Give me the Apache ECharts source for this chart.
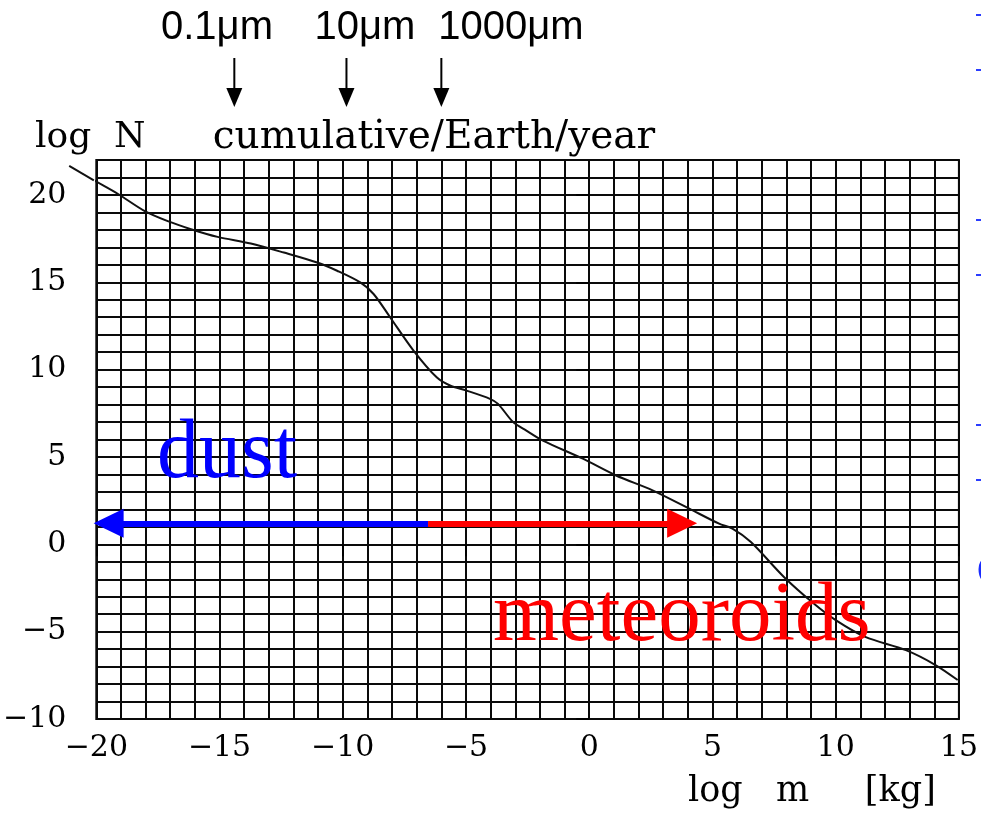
<!DOCTYPE html>
<html>
<head>
<meta charset="utf-8">
<script src="https://cdn.jsdelivr.net/npm/echarts@6/dist/echarts.min.js"></script>
<style>
  html, body { margin: 0; padding: 0; background: #ffffff; }
  #chart { width: 981px; height: 815px; }
</style>
</head>
<body>
<div id="chart"></div>
<script>
// Cumulative flux of interplanetary particles onto the Earth per year
const logMass = [-21.1, -20.1, -19.1, -18.05, -17.1, -16.16, -15.08, -13.73, -12.39, -11.04,
                 -10.23, -9.29, -8.75, -8.08, -7.13, -6.19, -5.65, -4.98, -4.03, -3.7,
                 -3.09, -2.55, -1.88, -0.26, 1.09, 2.57, 4.06, 5.27, 5.81, 6.56,
                 7.9, 9.11, 10.0, 11.2, 12.85, 14.05, 14.95];
const logN = [21.66, 20.84, 20.04, 19.09, 18.5, 18.04, 17.6, 17.22, 16.7, 16.13,
              15.66, 14.99, 14.33, 13.0, 11.09, 9.56, 9.09, 8.8, 8.33, 8.04,
              7.0, 6.51, 5.94, 4.9, 3.94, 3.09, 2.04, 1.18, 0.9, 0.13,
              -1.87, -3.39, -4.34, -5.3, -6.06, -6.91, -7.77];

const xTicks = [-20, -15, -10, -5, 0, 5, 10, 15];
const yTicks = [-10, -5, 0, 5, 10, 15, 20];

// particle sizes marked above the mass scale
const sizeLabels = ['0.1μm', '10μm', '1000μm'];
const sizeMarks = [-14.4, -9.85, -6.0];

// dust / meteoroid ranges (arrow ends on the mass axis, arrow level in log N)
const rangeSplit = -6.54;
const dustEnd = -19.5;
const meteoroidEnd = 3.77;
const rangeLevel = 1.2;

const X_MIN = -20, X_MAX = 15, Y_MIN = -10, Y_MAX = 22;

const seriesData = logMass.map((m, i) => [m, logN[i]]);
const minus = v => String(v).replace('-', '\u2212');
const serif = '"DejaVu Serif", serif';

const chart = echarts.init(document.getElementById('chart'), null, { renderer: 'canvas' });

const gridLine = { color: '#0a0a0a', width: 2 };
const tickStyle = { color: '#000', width: 2 };
const tickFont = { color: '#000', fontFamily: serif, fontSize: 30 };

chart.setOption({
  animation: false,
  backgroundColor: '#ffffff',
  grid: {
    left: 95, right: 20, top: 160, bottom: 96,
    show: true, borderColor: '#0a0a0a', borderWidth: 2, backgroundColor: 'transparent'
  },
  xAxis: [
    {
      // unit grid
      type: 'value', min: X_MIN, max: X_MAX, interval: 1, position: 'bottom',
      axisLine: { show: false }, axisTick: { show: false }, axisLabel: { show: false },
      splitLine: { show: true, lineStyle: gridLine }
    },
    {
      // labelled scale
      type: 'value', min: X_MIN, max: X_MAX, interval: 5, position: 'bottom',
      axisLine: { show: false },
      axisTick: { show: true, customValues: xTicks, length: 12, lineStyle: tickStyle },
      axisLabel: Object.assign({ customValues: xTicks, formatter: minus, margin: 14 }, tickFont),
      splitLine: { show: false }
    }
  ],
  yAxis: [
    {
      type: 'value', min: Y_MIN, max: Y_MAX, interval: 1, position: 'left',
      axisLine: { show: false }, axisTick: { show: false }, axisLabel: { show: false },
      splitLine: { show: true, lineStyle: gridLine }
    },
    {
      type: 'value', min: Y_MIN, max: Y_MAX, interval: 5, position: 'left',
      axisLine: { show: false },
      axisTick: { show: true, customValues: yTicks, length: 13, lineStyle: tickStyle },
      axisLabel: Object.assign({ customValues: yTicks, formatter: minus, margin: 30 }, tickFont),
      splitLine: { show: false }
    }
  ],
  series: [
    {
      type: 'line',
      xAxisIndex: 0, yAxisIndex: 0,
      data: seriesData,
      smooth: 0.3,
      showSymbol: false,
      clip: false,
      silent: true,
      lineStyle: { color: '#111', width: 2 },
      z: 3
    },
    {
      // dust range arrow
      type: 'line', data: [], silent: true, xAxisIndex: 0, yAxisIndex: 0,
      markLine: {
        silent: true, animation: false,
        symbol: ['none', 'triangle'], symbolSize: [29, 30],
        label: { show: false },
        lineStyle: { color: '#0000ff', width: 6, type: 'solid' },
        data: [[{ coord: [rangeSplit, rangeLevel] }, { coord: [dustEnd, rangeLevel] }]]
      },
      z: 4
    },
    {
      // meteoroid range arrow
      type: 'line', data: [], silent: true, xAxisIndex: 0, yAxisIndex: 0,
      markLine: {
        silent: true, animation: false,
        symbol: ['none', 'triangle'], symbolSize: [29, 30],
        label: { show: false },
        lineStyle: { color: '#ff0000', width: 6, type: 'solid' },
        data: [[{ coord: [rangeSplit, rangeLevel] }, { coord: [meteoroidEnd, rangeLevel] }]]
      },
      z: 4
    }
  ]
});

const toPx = (x, y) => chart.convertToPixel({ xAxisIndex: 0, yAxisIndex: 0 }, [x, y]);

const graphics = [];

// part of the curve that runs past the left edge of the frame
const tail = [];
for (let i = 0; i < logMass.length && logMass[i] <= X_MIN + 0.2; i++) {
  tail.push(toPx(logMass[i], logN[i]));
}
if (tail.length > 1) {
  graphics.push({
    type: 'polyline', shape: { points: tail },
    style: { stroke: '#111', lineWidth: 2, fill: null }, z: 5
  });
}

// particle-size labels with arrows pointing at their masses
const labelCenters = [217, 365, 511];
sizeLabels.forEach((txt, i) => {
  graphics.push({
    type: 'text', x: labelCenters[i], y: 28,
    style: { text: txt, fill: '#000', font: '40px "Liberation Sans", Arial, sans-serif',
             align: 'center', verticalAlign: 'middle' }
  });
});
sizeMarks.forEach(m => {
  const px = chart.convertToPixel({ xAxisIndex: 0 }, m);
  graphics.push({
    type: 'line',
    shape: { x1: px, y1: 58, x2: px, y2: 92 },
    style: { stroke: '#000', lineWidth: 2 }
  });
  graphics.push({
    type: 'polygon',
    shape: { points: [[px - 8, 88], [px + 8, 88], [px, 107]] },
    style: { fill: '#000' }
  });
});

// axis titles
graphics.push({
  type: 'text', x: 35, y: 138,
  style: { text: 'log  N', fill: '#000', font: '36px ' + serif, align: 'left', verticalAlign: 'middle' }
});
graphics.push({
  type: 'text', x: 434, y: 138,
  style: { text: 'cumulative/Earth/year', fill: '#000', font: '39px ' + serif, align: 'center', verticalAlign: 'middle' }
});
graphics.push({
  type: 'text', x: 688, y: 792,
  style: { text: 'log   m     [kg]', fill: '#000', font: '35px ' + serif, align: 'left', verticalAlign: 'middle' }
});

// population labels
graphics.push({
  type: 'text', x: 157, y: 455,
  style: { text: 'dust', fill: '#0000ff', font: '84px "Liberation Serif", "Times New Roman", serif',
           align: 'left', verticalAlign: 'middle' }, z: 10
});
graphics.push({
  type: 'text', x: 493, y: 618,
  style: { text: 'meteoroids', fill: '#ff0000', font: '85px "Liberation Serif", "Times New Roman", serif',
           align: 'left', verticalAlign: 'middle' }, z: 10
});

// fragments at the right margin
[15, 70, 220, 275, 425, 480].forEach(y => {
  graphics.push({ type: 'rect', shape: { x: 976, y: y - 1, width: 6, height: 2 }, style: { fill: '#2a3cff' } });
});
graphics.push({
  type: 'text', x: 975, y: 556,
  style: { text: 'a', fill: '#1a2cff', font: '100px "Liberation Serif", serif', align: 'left', verticalAlign: 'middle' }
});

chart.setOption({ graphic: graphics });
</script>
</body>
</html>
